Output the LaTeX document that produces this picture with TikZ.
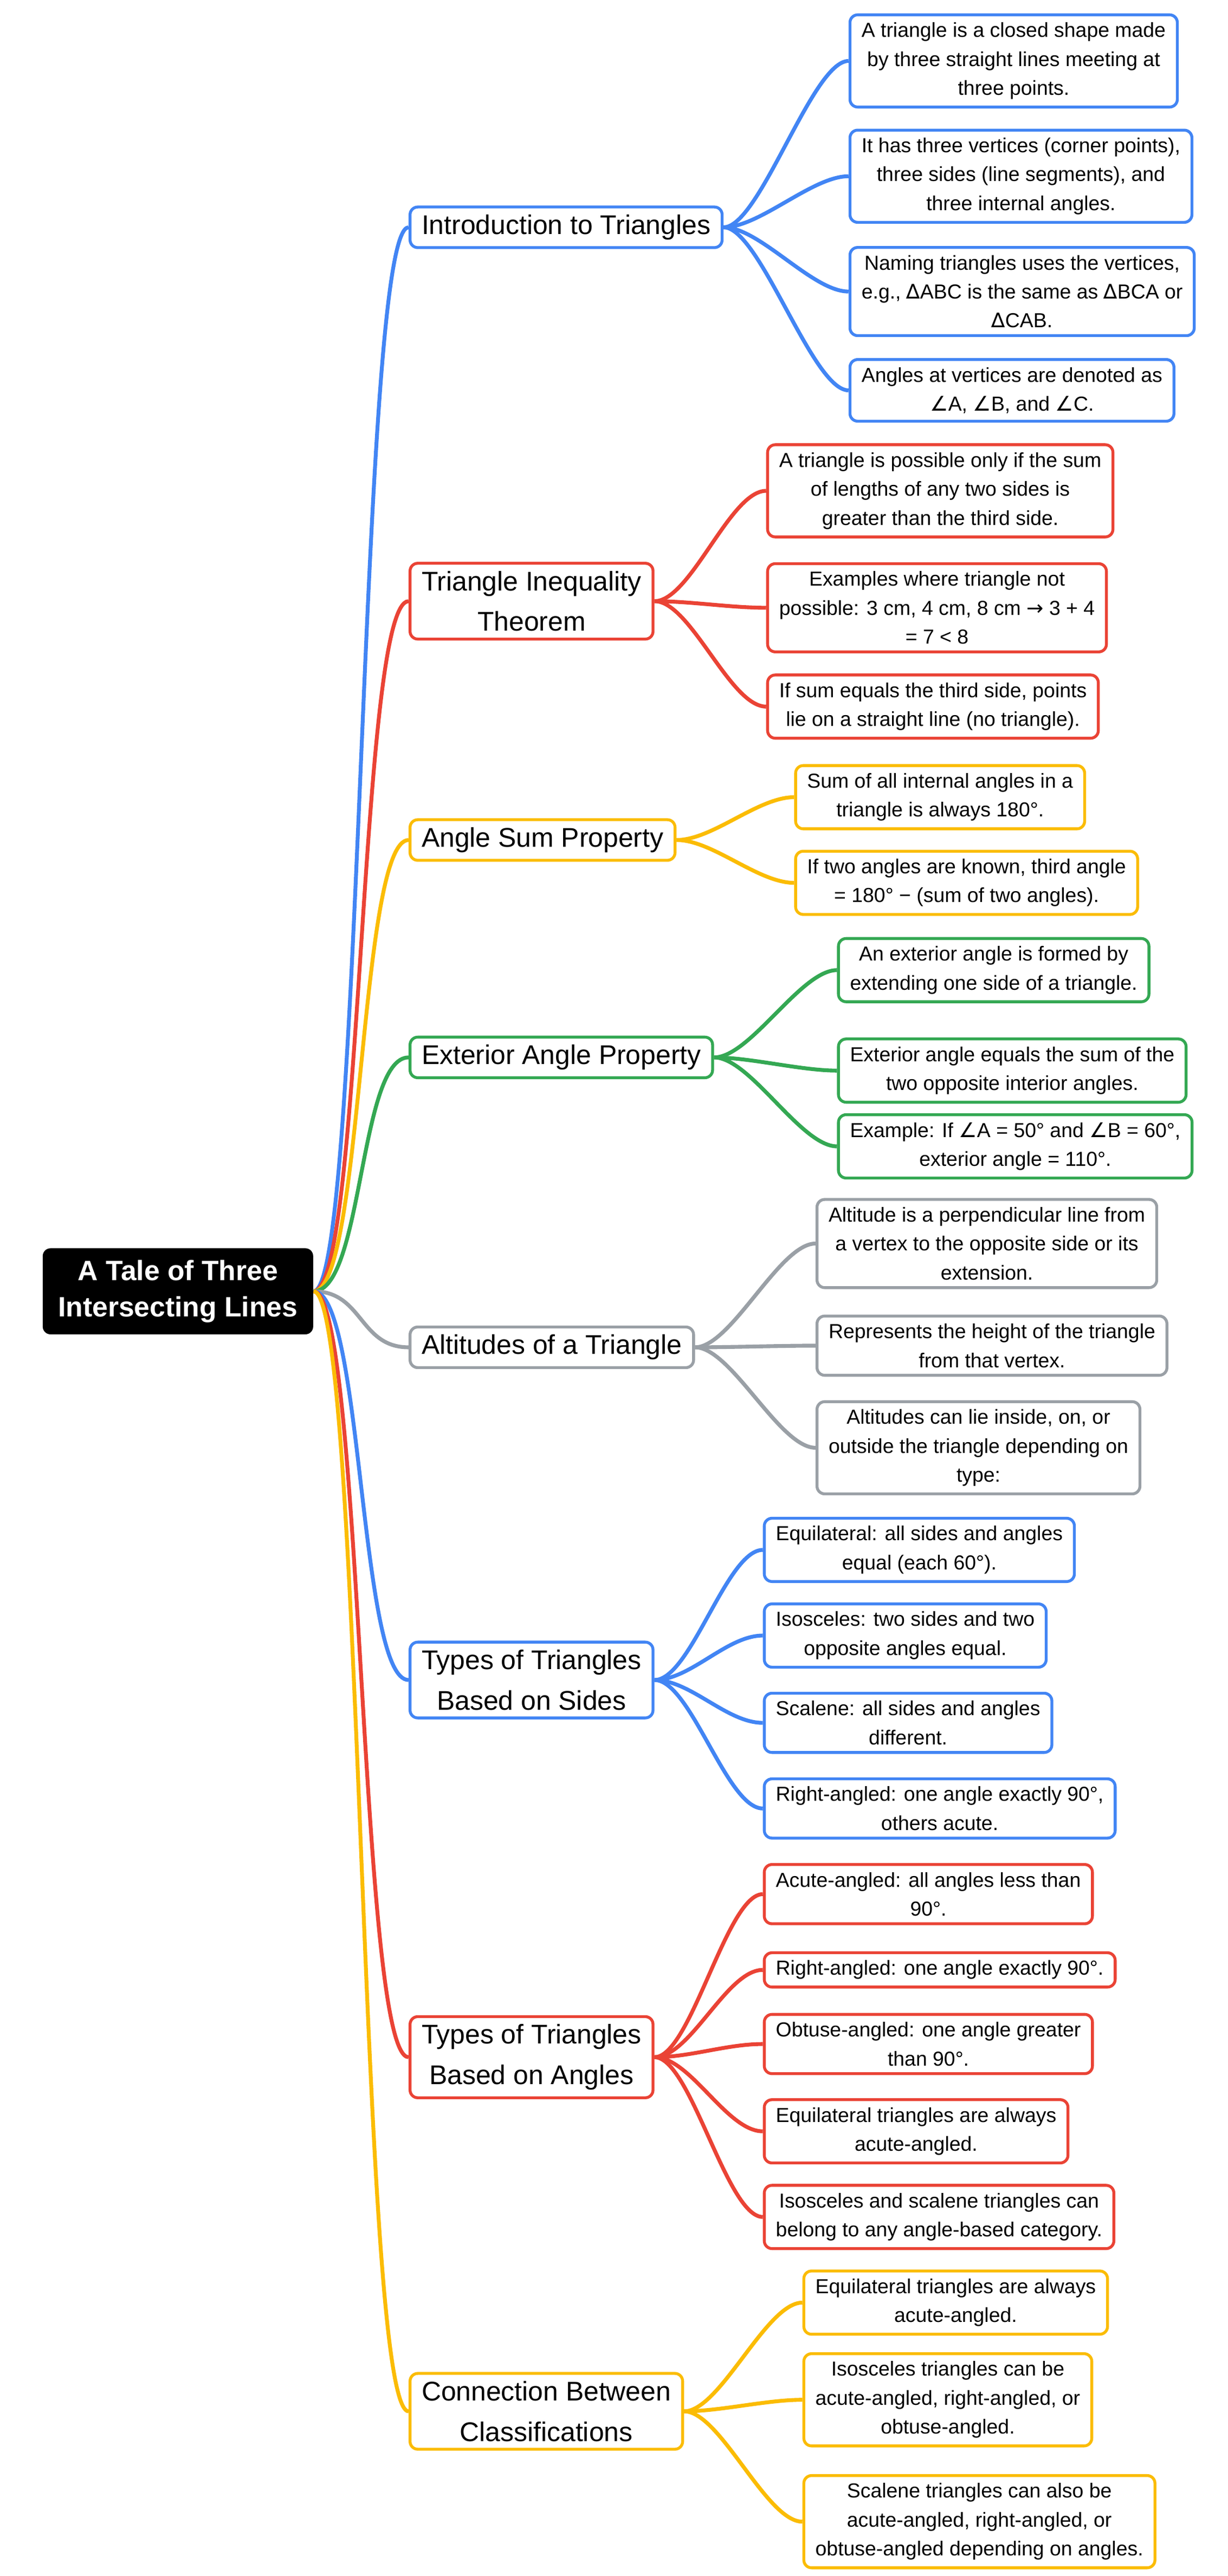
\documentclass[tikz,border=0pt]{standalone}
\usepackage{fontspec}
\setmainfont{Liberation Sans}
\newfontfamily\sym{DejaVu Sans}
\definecolor{cblue}{HTML}{4285F4}
\definecolor{cred}{HTML}{EA4335}
\definecolor{cyellow}{HTML}{FBBC04}
\definecolor{cgreen}{HTML}{34A853}
\definecolor{cgray}{HTML}{9AA0A6}
\begin{document}
\begin{tikzpicture}[
    x=0.03cm, y=-0.03cm,
    root/.style={fill=black, text=white, rounded corners=4pt, font=\fontsize{14.5}{19}\selectfont\bfseries, align=center, inner xsep=8pt, inner ysep=6pt},
    branch/.style={draw=#1, line width=1.5pt, fill=white, rounded corners=4pt, anchor=west, align=center, font=\fontsize{14}{21}\selectfont, inner xsep=6pt, inner ysep=4pt},
    leaf/.style={draw=#1, line width=1.5pt, fill=white, rounded corners=4pt, anchor=west, align=center, font=\fontsize{10.5}{15}\selectfont, inner xsep=6pt, inner ysep=4pt},
    link/.style={draw=#1, line width=2pt}
]
\useasboundingbox (0,0) rectangle (745,1564);

% Racine
\node[root] (root) at (108,784) {A Tale of Three\\Intersecting Lines};

% Branches
\node[branch=cblue] (intro) at (248,138) {Introduction to Triangles};
\node[branch=cred] (ineq) at (248,365) {Triangle Inequality\\Theorem};
\node[branch=cyellow] (asum) at (248,510) {Angle Sum Property};
\node[branch=cgreen] (ext) at (248,642) {Exterior Angle Property};
\node[branch=cgray] (alt) at (248,818) {Altitudes of a Triangle};
\node[branch=cblue] (sides) at (248,1020) {Types of Triangles\\Based on Sides};
\node[branch=cred] (angles) at (248,1249) {Types of Triangles\\Based on Angles};
\node[branch=cyellow] (conn) at (248,1464) {Connection Between\\Classifications};

% Feuilles
\node[leaf=cblue] (intro1) at (515,37) {A triangle is a closed shape made\\by three straight lines meeting at\\three points.};
\node[leaf=cblue] (intro2) at (515,107) {It has three vertices (corner points),\\three sides (line segments), and\\three internal angles.};
\node[leaf=cblue] (intro3) at (515,177) {Naming triangles uses the vertices,\\e.g., {\sym∆}ABC is the same as {\sym∆}BCA or\\{\sym∆}CAB.};
\node[leaf=cblue] (intro4) at (515,237) {Angles at vertices are denoted as\\{\sym∠}A, {\sym∠}B, and {\sym∠}C.};

\node[leaf=cred] (ineq1) at (465,298) {A triangle is possible only if the sum\\of lengths of any two sides is\\greater than the third side.};
\node[leaf=cred] (ineq2) at (465,369) {Examples where triangle not\\possible: 3 cm, 4 cm, 8 cm {\sym→} 3 + 4\\= 7 < 8};
\node[leaf=cred] (ineq3) at (465,429) {If sum equals the third side, points\\lie on a straight line (no triangle).};

\node[leaf=cyellow] (asum1) at (482,484) {Sum of all internal angles in a\\triangle is always 180°.};
\node[leaf=cyellow] (asum2) at (482,536) {If two angles are known, third angle\\= 180° − (sum of two angles).};

\node[leaf=cgreen] (ext1) at (508,589) {An exterior angle is formed by\\extending one side of a triangle.};
\node[leaf=cgreen] (ext2) at (508,650) {Exterior angle equals the sum of the\\two opposite interior angles.};
\node[leaf=cgreen] (ext3) at (508,696) {Example: If {\sym∠}A = 50° and {\sym∠}B = 60°,\\exterior angle = 110°.};

\node[leaf=cgray] (alt1) at (495,755) {Altitude is a perpendicular line from\\a vertex to the opposite side or its\\extension.};
\node[leaf=cgray] (alt2) at (495,817) {Represents the height of the triangle\\from that vertex.};
\node[leaf=cgray] (alt3) at (495,879) {Altitudes can lie inside, on, or\\outside the triangle depending on\\type:};

\node[leaf=cblue] (sides1) at (463,941) {Equilateral: all sides and angles\\equal (each 60°).};
\node[leaf=cblue] (sides2) at (463,993) {Isosceles: two sides and two\\opposite angles equal.};
\node[leaf=cblue] (sides3) at (463,1046) {Scalene: all sides and angles\\different.};
\node[leaf=cblue] (sides4) at (463,1098) {Right-angled: one angle exactly 90°,\\others acute.};

\node[leaf=cred] (angles1) at (463,1150) {Acute-angled: all angles less than\\90°.};
\node[leaf=cred] (angles2) at (463,1196) {Right-angled: one angle exactly 90°.};
\node[leaf=cred] (angles3) at (463,1241) {Obtuse-angled: one angle greater\\than 90°.};
\node[leaf=cred] (angles4) at (463,1294) {Equilateral triangles are always\\acute-angled.};
\node[leaf=cred] (angles5) at (463,1346) {Isosceles and scalene triangles can\\belong to any angle-based category.};

\node[leaf=cyellow] (conn1) at (487,1398) {Equilateral triangles are always\\acute-angled.};
\node[leaf=cyellow] (conn2) at (487,1457) {Isosceles triangles can be\\acute-angled, right-angled, or\\obtuse-angled.};
\node[leaf=cyellow] (conn3) at (487,1531) {Scalene triangles can also be\\acute-angled, right-angled, or\\obtuse-angled depending on angles.};

% Connexions
\begin{scope}[on background layer/.style={}]
\foreach \b/\n/\c in {intro/4/cblue, ineq/3/cred, asum/2/cyellow, ext/3/cgreen, alt/3/cgray, sides/4/cblue, angles/5/cred, conn/3/cyellow} {
    \draw[link=\c] (root.east) .. controls +(30,0) and +(-30,0) .. (\b.west);
    \foreach \i in {1,...,\n} {
        \draw[link=\c] (\b.east) .. controls +(22,0) and +(-22,0) .. (\b\i.west);
    }
}
\end{scope}
\end{tikzpicture}
\end{document}
